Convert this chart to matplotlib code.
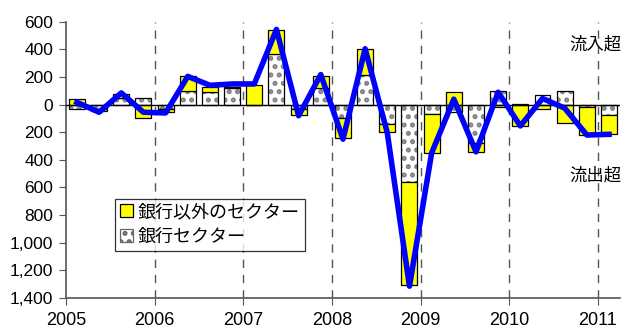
import numpy as np
import matplotlib
matplotlib.use("Agg")
import matplotlib.pyplot as plt
from matplotlib.patches import Patch
from matplotlib.ticker import FuncFormatter

plt.rcParams['font.family'] = ['Liberation Sans', 'Noto Sans CJK JP']
plt.rcParams['hatch.linewidth'] = 2.4

# quarterly flows, 2005Q1 - 2011Q1
years = [2005, 2006, 2007, 2008, 2009, 2010, 2011]
nonbank = [40, -18, 30, -100, -25, 110, 35, 3, 140, 172, -40, 88, -145,
           182, -55, -745, -285, 92, -66, -16, -158, -30, -132, -205, -141]
bank = [-29, -30, 50, 45, -30, 98, 92, 122, 0, 368, -33, 122, -98,
        218, -140, -560, -68, -55, -276, 98, 5, 68, 98, -14, -73]
total = [17, -55, 85, -55, -60, 205, 140, 150, 150, 545, -80, 218, -250,
         405, -205, -1315, -350, 40, -342, 90, -154, 45, -25, -220, -215]

nonbank = np.array(nonbank, dtype=float)
bank = np.array(bank, dtype=float)
x = 2005 + (np.arange(len(total)) + 0.5) / 4
w = 0.18

fig = plt.figure(figsize=(6.27, 3.31), dpi=100)
ax = fig.add_axes([0.105, 0.1, 0.884, 0.834])

for yr in years[1:]:
    ax.axvline(yr, color='#555555', lw=1, ls=(0, (6, 5)), zorder=0)

# bank sits next to zero, non-bank stacks outward
nb_bottom = np.where(np.sign(nonbank) == np.sign(bank), bank, 0)
ax.bar(x, bank, w, color='white', edgecolor='#808080', hatch='..', lw=0, zorder=2)
ax.bar(x, bank, w, color='none', edgecolor='black', lw=0.9, zorder=3)
ax.bar(x, nonbank, w, bottom=nb_bottom, color='#ffff00', edgecolor='black',
       lw=0.9, zorder=3)

ax.axhline(0, color='black', lw=1, zorder=4)
ax.plot(x, total, color='#0000ff', lw=4, zorder=5, solid_joinstyle='round')

ax.set_xlim(2005, 2011.25)
ax.set_ylim(-1400, 600)
ax.set_yticks(np.arange(-1400, 601, 200))
ax.yaxis.set_major_formatter(FuncFormatter(lambda v, p: f"{abs(int(v)):,}"))
ax.set_xticks(years)
ax.tick_params(axis='y', labelsize=12.5, color='#555555', length=5, pad=4)
ax.tick_params(axis='x', labelsize=13, color='#555555', length=5, pad=5)
for s in ['top', 'right']:
    ax.spines[s].set_visible(False)
for s in ['left', 'bottom']:
    ax.spines[s].set_color('#555555')
    ax.spines[s].set_linewidth(1.2)

ax.text(2010.97, 440, '流入超', fontsize=12.5, ha='center', va='center')
ax.text(2010.97, -515, '流出超', fontsize=12.5, ha='center', va='center')

handles = [Patch(facecolor='#ffff00', edgecolor='black', lw=0.9),
           Patch(facecolor='white', edgecolor='#666666', hatch='..', lw=0.9)]
leg = ax.legend(handles, ['銀行以外のセクター', '銀行セクター'], loc='upper left',
                bbox_to_anchor=(0.088, 0.36), fontsize=13, frameon=True,
                fancybox=False, edgecolor='black', handlelength=0.7,
                handleheight=0.7, handletextpad=0.25, borderpad=0.3,
                labelspacing=0.45, borderaxespad=0)
leg.get_frame().set_linewidth(0.9)

fig.savefig('out.png', dpi=100)
